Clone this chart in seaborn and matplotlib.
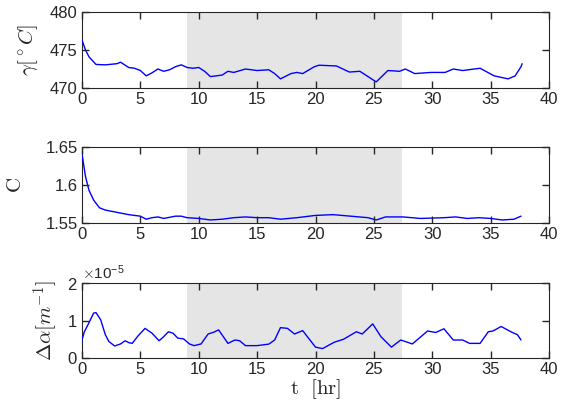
import numpy as np
import pandas as pd
import matplotlib
matplotlib.use("Agg")
import matplotlib.pyplot as plt
import seaborn as sns
from matplotlib.ticker import FormatStrFormatter, ScalarFormatter

# ---- data ----
t_gamma = [0, 0.3, 0.6, 1.2, 2, 3, 3.3, 4, 4.5, 5, 5.5, 6, 6.5, 7, 7.5, 8, 8.5, 9, 9.5,
           10, 10.5, 11, 12, 12.5, 13, 14, 15, 16, 16.5, 17, 17.9, 18.4, 18.9, 19.9,
           20.3, 21.8, 22.9, 23.8, 24.6, 25.2, 26.2, 27.2, 27.7, 28.5, 29.9, 31.1,
           31.8, 32.6, 34.1, 35.3, 36.5, 37.1, 37.6, 37.7]
gamma = [476.3, 475.0, 474.1, 473.1, 473.05, 473.2, 473.4, 472.7, 472.6, 472.3, 471.6,
         472.0, 472.5, 472.2, 472.4, 472.8, 473.05, 472.7, 472.6, 472.7, 472.2, 471.5,
         471.7, 472.2, 472.05, 472.5, 472.3, 472.4, 471.9, 471.2, 471.9, 472.05, 471.9,
         472.8, 473.0, 472.9, 472.1, 472.2, 471.4, 470.8, 472.3, 472.2, 472.5, 471.9,
         472.05, 472.05, 472.5, 472.3, 472.6, 471.6, 471.2, 471.6, 472.8, 473.2]

t_c = [0, 0.3, 0.6, 1, 1.5, 2, 3, 4, 5, 5.5, 6, 6.5, 7, 8, 8.5, 9, 10, 11, 12, 13, 14,
       15, 16, 17, 18.4, 20, 21.5, 23, 24.5, 25.2, 26, 27.5, 29, 31, 32, 33, 34, 35,
       36, 37, 37.6]
c_vals = [1.641, 1.611, 1.593, 1.580, 1.570, 1.567, 1.564, 1.561, 1.559, 1.555, 1.557,
          1.558, 1.556, 1.559, 1.559, 1.557, 1.556, 1.554, 1.555, 1.557, 1.558, 1.557,
          1.557, 1.555, 1.557, 1.560, 1.561, 1.559, 1.557, 1.554, 1.558, 1.558, 1.556,
          1.557, 1.558, 1.556, 1.557, 1.556, 1.554, 1.555, 1.559]

t_alpha = [0, 0.2, 0.5, 1, 1.2, 1.6, 2, 2.3, 2.8, 3.3, 3.7, 4, 4.3, 4.8, 5.4, 6, 6.6, 7,
           7.4, 7.8, 8.2, 8.7, 9.2, 9.6, 10.2, 10.8, 11.3, 11.7, 12.1, 12.5, 13.1, 13.5,
           14, 15, 16, 16.5, 17, 17.6, 18.2, 18.9, 19.3, 20.0, 20.6, 21.6, 22.4, 23.5,
           24.0, 24.9, 25.6, 26.5, 27.3, 28.3, 29.6, 30.3, 31.0, 31.8, 32.6, 33.2, 34.1,
           34.8, 35.2, 35.9, 36.8, 37.3, 37.6]
alpha_e5 = [0.48, 0.70, 0.88, 1.20, 1.21, 1.02, 0.62, 0.44, 0.32, 0.375, 0.46, 0.41,
            0.39, 0.59, 0.79, 0.66, 0.46, 0.57, 0.70, 0.66, 0.53, 0.51, 0.375, 0.33,
            0.375, 0.64, 0.69, 0.75, 0.57, 0.39, 0.48, 0.46, 0.33, 0.33, 0.37, 0.48,
            0.81, 0.79, 0.64, 0.73, 0.57, 0.29, 0.25, 0.42, 0.50, 0.70, 0.64, 0.91,
            0.57, 0.29, 0.48, 0.375, 0.72, 0.68, 0.78, 0.48, 0.48, 0.39, 0.39, 0.70,
            0.72, 0.84, 0.69, 0.62, 0.48]

shade_start, shade_end = 9.0, 27.4
x_ticks = [0, 5, 10, 15, 20, 25, 30, 35, 40]

# ---- style ----
sns.set_theme(style="white")
plt.rcParams.update({
    "font.family": ["Liberation Sans", "DejaVu Sans"],
    "mathtext.fontset": "cm",
    "axes.edgecolor": "#262626",
    "axes.linewidth": 0.8,
    "xtick.labelsize": 12,
    "ytick.labelsize": 12,
    "xtick.direction": "in",
    "ytick.direction": "in",
    "xtick.bottom": True,
    "xtick.top": True,
    "ytick.left": True,
    "ytick.right": True,
    "xtick.major.size": 5,
    "ytick.major.size": 5,
    "xtick.major.width": 1.0,
    "ytick.major.width": 1.0,
    "xtick.color": "#262626",
    "ytick.color": "#262626",
})

fig, axes = plt.subplots(3, 1, figsize=(5.64, 4.17), dpi=100)
ax1, ax2, ax3 = axes
left, width = 0.1454, 0.828
ax1.set_position([left, 0.789, width, 0.182])
ax2.set_position([left, 0.4652, width, 0.1823])
ax3.set_position([left, 0.1415, width, 0.1798])

df1 = pd.DataFrame({"t": t_gamma, "v": gamma})
df2 = pd.DataFrame({"t": t_c, "v": c_vals})
df3 = pd.DataFrame({"t": t_alpha, "v": np.array(alpha_e5) * 1e-5})

for ax, df in ((ax1, df1), (ax2, df2), (ax3, df3)):
    ax.axvspan(shade_start, shade_end, color="#e5e5e5", lw=0, zorder=0)
    sns.lineplot(data=df, x="t", y="v", ax=ax, color="#0000ff", lw=1.0, zorder=3)
    ax.set_xlim(0, 40)
    ax.set_xticks(x_ticks)
    ax.set_xlabel("")

ax1.set_ylim(470, 480)
ax1.set_yticks([470, 475, 480])
ax1.set_ylabel(r"$\gamma[^\circ C]$", fontsize=15)
ax1.yaxis.set_label_coords(-0.09, 0.5)

ax2.set_ylim(1.55, 1.65)
ax2.set_yticks([1.55, 1.6, 1.65])
ax2.yaxis.set_major_formatter(FormatStrFormatter("%g"))
ax2.set_ylabel(r"$\mathrm{C}$", fontsize=15)
ax2.yaxis.set_label_coords(-0.122, 0.5)

ax3.set_ylim(0, 2e-5)
ax3.set_yticks([0, 1e-5, 2e-5])
fmt = ScalarFormatter(useMathText=True)
fmt.set_powerlimits((0, 0))
ax3.yaxis.set_major_formatter(fmt)
ax3.yaxis.get_offset_text().set_fontsize(11)
ax3.set_ylabel(r"$\Delta\alpha[m^{-1}]$", fontsize=15)
ax3.yaxis.set_label_coords(-0.047, 0.5)
ax3.set_xlabel(r"$\mathrm{t\ \ [hr]}$", fontsize=15, labelpad=0)

for ax in axes:
    ax.tick_params(axis="both", which="major", direction="in", length=5, width=1.0,
                   color="#262626", labelcolor="#262626", pad=3,
                   bottom=True, top=True, left=True, right=True)

fig.canvas.draw()
for ax in axes:
    for axis in (ax.xaxis, ax.yaxis):
        axis.set_zorder(5)
        for tick in axis.get_major_ticks():
            for ln in (tick.tick1line, tick.tick2line):
                ln.set_visible(True)
                ln.set_markersize(5)
                ln.set_markeredgewidth(1.0)
                ln.set_markeredgecolor("#262626")
                ln.set_color("#262626")

fig.savefig("out.png", dpi=100)
